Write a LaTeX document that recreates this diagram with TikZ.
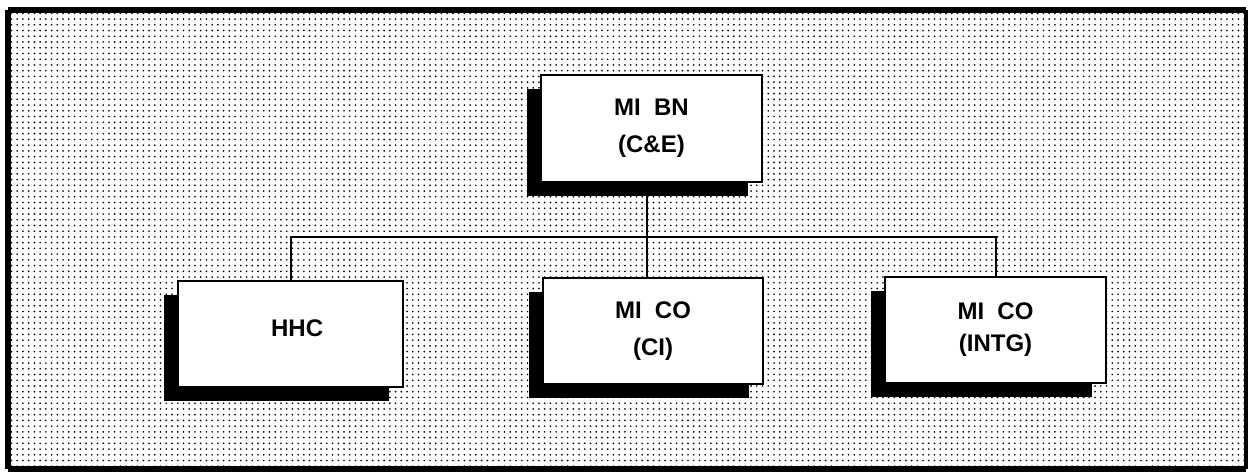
\documentclass[tikz,border=0pt]{standalone}
\usepackage{fontspec}
\setmainfont{Liberation Sans}
\usetikzlibrary{shadows,patterns.meta}
\tikzset{
  unitbox/.style={draw=black, line width=1.5pt, fill=white, align=center,
    font=\bfseries\fontsize{18}{28}\selectfont,
    drop shadow={shadow xshift=-10.5pt, shadow yshift=-10.5pt, fill=black, opacity=1},
    minimum height=80pt, inner sep=0pt},
  link/.style={line width=1.5pt, draw=black},
  frame/.style={line width=5pt, draw=black}
}
\begin{document}
\begin{tikzpicture}[x=0.75pt,y=-0.75pt]
\useasboundingbox (0,0) rectangle (1249,472);
\fill[white] (0,0) rectangle (1249,472);
\fill[pattern={Dots[distance=4.3pt, radius=0.7pt]}, pattern color=black] (8,10) rectangle (1246,469);
% frame
\draw[frame] (8,10) -- (1246,10);
\draw[frame] (8,10) -- (8,469);
\draw[frame] (8,469) -- (1246,469);
\draw[line width=2.5pt] (1246,10) -- (1246,469);
% boxes
\node[unitbox, minimum width=165.75pt] (bn) at (651.5,128.5) {MI\hspace{0.55em}BN\\(C\&E)};
\node[unitbox, minimum width=168.75pt] (hhc) at (290.5,334) {\hspace*{10pt}HHC\\[-28pt]\strut};
\node[unitbox, minimum width=165pt] (ci) at (653,331) {MI\hspace{0.55em}CO\\(CI)};
\node[unitbox, minimum width=165.75pt] (intg) at (995.5,330) {MI\hspace{0.55em}CO\\[-4pt](INTG)};
% connectors
\coordinate (bar) at (647,237);
\draw[link] (bar |- bn.south) -- (bar);
\draw[link] (hhc.north) |- (bar) -| (intg.north);
\draw[link] (bar |- ci.north) -- (bar);
\end{tikzpicture}
\end{document}
